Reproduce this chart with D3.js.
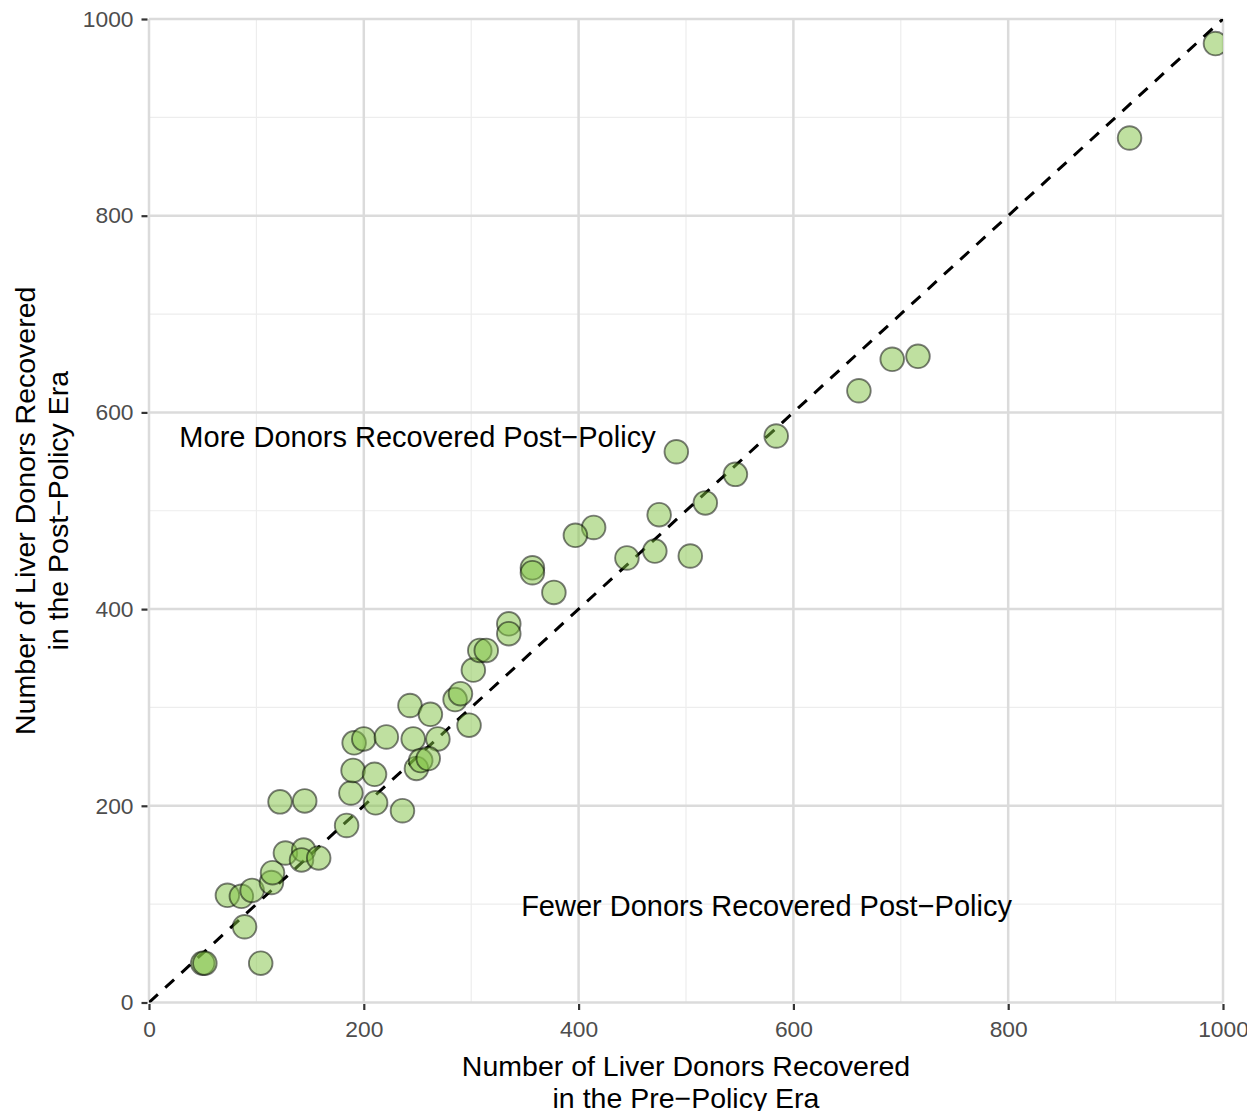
<!DOCTYPE html>
<html>
<head>
<meta charset="utf-8">
<script src="https://cdn.jsdelivr.net/npm/d3@7"></script>
<style>
  html, body { margin: 0; padding: 0; background: #ffffff; }
  svg { display: block; }
  text { font-family: "Liberation Sans", Arial, Helvetica, sans-serif; }
</style>
</head>
<body>
<div id="chart"></div>
<script>
// Number of liver donors recovered per OPO: pre-policy vs post-policy era
const preDonors  = [50, 52, 104, 89, 73, 86, 96, 114, 115, 127, 144, 142, 158, 184, 122, 145, 188, 211, 236, 190, 210, 191, 200, 221, 246, 269, 249, 253, 260, 243, 262, 298, 285, 290, 302, 308, 314, 491, 584, 546, 518, 475, 414, 397, 357, 357, 377, 445, 471, 504, 335, 335, 661, 692, 716, 993, 913];
const postDonors = [40, 40, 40, 77, 109, 108, 114, 122, 132, 152, 155, 145, 147, 180, 204, 205, 213, 203, 195, 236, 232, 264, 268, 270, 268, 268, 238, 246, 248, 302, 293, 282, 308, 314, 338, 358, 358, 560, 576, 537, 508, 496, 483, 475, 442, 437, 417, 452, 459, 454, 385, 375, 622, 654, 657, 975, 879];

const majorTicks = [0, 200, 400, 600, 800, 1000];
const minorTicks = [100, 300, 500, 700, 900];

const xTitle = ["Number of Liver Donors Recovered", "in the Pre\u2212Policy Era"];
const yTitle = ["Number of Liver Donors Recovered", "in the Post\u2212Policy Era"];

const annotations = [
  { x: 250, y: 575, label: "More Donors Recovered Post\u2212Policy" },
  { x: 575, y: 99, label: "Fewer Donors Recovered Post\u2212Policy" }
];

const data = preDonors.map((d, i) => ({ pre: d, post: postDonors[i] }));

const W = 1247, H = 1111;
const panel = { left: 149, right: 1223, top: 19, bottom: 1002.5 };

const svg = d3.select("#chart").append("svg")
  .attr("width", W).attr("height", H);

const x = d3.scaleLinear().domain([0, 1000]).range([panel.left, panel.right]);
const y = d3.scaleLinear().domain([0, 1000]).range([panel.bottom, panel.top]);

svg.append("defs").append("clipPath").attr("id", "panel-clip")
  .append("rect")
  .attr("x", panel.left).attr("y", panel.top)
  .attr("width", panel.right - panel.left)
  .attr("height", panel.bottom - panel.top);

// Grid
const grid = svg.append("g");
grid.selectAll("line.minor-x").data(minorTicks).join("line")
  .attr("x1", d => x(d)).attr("x2", d => x(d))
  .attr("y1", panel.top).attr("y2", panel.bottom)
  .attr("stroke", "#ededed").attr("stroke-width", 1.2);
grid.selectAll("line.minor-y").data(minorTicks).join("line")
  .attr("y1", d => y(d)).attr("y2", d => y(d))
  .attr("x1", panel.left).attr("x2", panel.right)
  .attr("stroke", "#ededed").attr("stroke-width", 1.2);
grid.selectAll("line.major-x").data(majorTicks).join("line")
  .attr("x1", d => x(d)).attr("x2", d => x(d))
  .attr("y1", panel.top).attr("y2", panel.bottom)
  .attr("stroke", "#dbdbdb").attr("stroke-width", 2.5);
grid.selectAll("line.major-y").data(majorTicks).join("line")
  .attr("y1", d => y(d)).attr("y2", d => y(d))
  .attr("x1", panel.left).attr("x2", panel.right)
  .attr("stroke", "#dbdbdb").attr("stroke-width", 2.5);

// Axes via d3 axis generators
const xAxis = d3.axisBottom(x).tickValues(majorTicks).tickSize(6).tickPadding(11).tickFormat(d3.format("d"));
const yAxis = d3.axisLeft(y).tickValues(majorTicks).tickSize(6).tickPadding(8).tickFormat(d3.format("d"));

const gx = svg.append("g").attr("transform", `translate(0,${panel.bottom + 1.5})`).call(xAxis);
const gy = svg.append("g").attr("transform", `translate(${panel.left - 1.5},0)`).call(yAxis);
[gx, gy].forEach(g => {
  g.select(".domain").remove();
  g.selectAll(".tick line").attr("stroke", "#333333").attr("stroke-width", 2.2);
  g.selectAll(".tick text")
    .attr("fill", "#4d4d4d")
    .style("font-size", "22.8px")
    .style("font-family", "'Liberation Sans', Arial, sans-serif");
});
gx.selectAll(".tick text").attr("dy", "0.72em");

// Diagonal reference line
const plotG = svg.append("g").attr("clip-path", "url(#panel-clip)");
plotG.append("line")
  .attr("x1", x(0)).attr("y1", y(0))
  .attr("x2", x(1000)).attr("y2", y(1000))
  .attr("stroke", "#000").attr("stroke-width", 3)
  .attr("stroke-dasharray", "12,10");

// Points
plotG.selectAll("circle").data(data).join("circle")
  .attr("cx", d => x(d.pre))
  .attr("cy", d => y(d.post))
  .attr("r", 11.8)
  .attr("fill", "#7fc241").attr("fill-opacity", 0.5)
  .attr("stroke", "#000").attr("stroke-opacity", 0.5).attr("stroke-width", 1.9);

// Annotations
svg.selectAll("text.annot").data(annotations).join("text")
  .attr("class", "annot")
  .attr("x", d => x(d.x)).attr("y", d => y(d.y))
  .attr("dy", "0.36em")
  .attr("text-anchor", "middle")
  .attr("fill", "#000")
  .style("font-size", "29px")
  .text(d => d.label);

// Axis titles
const xMid = (panel.left + panel.right) / 2;
const yMid = (panel.top + panel.bottom) / 2;
svg.selectAll("text.xtitle").data(xTitle).join("text")
  .attr("class", "xtitle")
  .attr("x", xMid).attr("y", (d, i) => 1076 + i * 32)
  .attr("text-anchor", "middle").attr("fill", "#000")
  .style("font-size", "28.5px")
  .text(d => d);
svg.selectAll("text.ytitle").data(yTitle).join("text")
  .attr("class", "ytitle")
  .attr("transform", (d, i) => `translate(${35 + i * 32.5},${yMid}) rotate(-90)`)
  .attr("text-anchor", "middle").attr("fill", "#000")
  .style("font-size", "28.5px")
  .text(d => d);
</script>
</body>
</html>
